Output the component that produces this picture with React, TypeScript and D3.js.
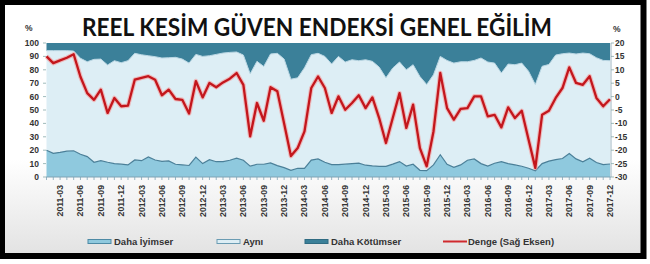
import React from "react";
import * as d3 from "d3";

const months: string[] = d3
  .timeMonth.range(new Date(2011, 0, 1), new Date(2018, 0, 1))
  .map((d) => d3.timeFormat("%Y-%m")(d));

const tickLabels: string[] = months.filter((m, i) => i % 3 === 2);

const iyimser: number[] = [
  20, 17.7, 18.4, 19.3, 19.6, 17, 15.2, 11, 12.2, 11, 10, 9.6, 9, 12.7, 12.2, 15, 12.7, 11.6, 12, 9.5,
  9, 8.6, 14.9, 10, 12.9, 11.4, 11.5, 12.5, 14, 12.5, 8.1, 9.5, 9.5, 10.5, 8.5, 7, 5, 6.5, 6.5, 12.6,
  13.5, 11, 9.2, 9.2, 9.6, 10, 10.3, 8.8, 8.3, 8, 8, 9.6, 11.5, 8.2, 9.5, 5, 4.7, 9, 16.6, 9.5,
  7.2, 9, 12.5, 13.5, 10, 8.2, 10.3, 11.5, 10, 9, 8, 6.5, 4.7, 10, 11.8, 13, 13.8, 17.5, 13.5, 11.4,
  14, 10.8, 9.3, 9.7,
];

const ayni: number[] = [
  74.3, 76.6, 75.9, 75, 74.4, 71.6, 70.8, 76.8, 75.8, 72.6, 76.8, 75.7, 77.8, 79.6, 79, 75.5, 77.1, 77.2, 77, 79.8,
  79, 76.4, 76.6, 80, 77.6, 80.1, 81, 80.5, 79.3, 78.5, 68.9, 76.8, 73, 81.3, 83.8, 81, 68, 67.5, 75, 78.7,
  78.8, 79, 75.1, 80.8, 76.2, 77.5, 76.5, 78.7, 78, 74, 66, 71.7, 74.3, 71.8, 74.3, 70, 64.3, 67.3, 73.4, 77.5,
  77.8, 77, 73.5, 73.5, 78.8, 77.6, 74.7, 66.1, 74.3, 74.8, 77, 72.5, 64.3, 72.6, 72.2, 78, 78.2, 75, 78.3, 81.1,
  78, 78.2, 77.7, 77.1,
];

const kotumser: number[] = [
  5.7, 5.7, 5.7, 5.7, 6, 11.4, 14, 12.2, 12, 16.4, 13.2, 14.7, 13.2, 7.7, 8.8, 9.5, 10.2, 11.2, 11, 10.7,
  12, 15, 8.5, 10, 9.5, 8.5, 7.5, 7, 6.7, 9, 23, 13.7, 17.5, 8.2, 7.7, 12, 27, 26, 18.5, 8.7,
  7.7, 10, 15.7, 10, 14.2, 12.5, 13.2, 12.5, 13.7, 18, 26, 18.7, 14.2, 20, 16.2, 25, 31, 23.7, 10, 13,
  15, 14, 14, 13, 11.2, 14.2, 15, 22.4, 15.7, 16.2, 15, 21, 31, 17.4, 16, 9, 8, 7.5, 8.2, 7.5,
  8, 11, 13, 13.2,
];

const denge: number[] = [
  15, 12.5, 13.5, 14.5, 15.8, 7.4, 1.3, -1.2, 2.6, -6.1, -0.5, -3.6, -3.4, 6.3, 7, 7.6, 6.3, 0.5, 2.6, -0.9,
  -1.2, -6.3, 5.8, -0.3, 5.1, 3.5, 5.3, 6.7, 8.8, 4.4, -14.8, -2.4, -9, 3.5, 2, -10, -22.2, -19.2, -13, 3.2,
  7.5, 3.2, -6.1, 0.1, -4.9, -2.4, 0.5, -4.3, -0.3, -8, -17.3, -8, 1.3, -11.7, -3, -19.2, -26, -13, 8.8, -4.3,
  -8.6, -4.6, -4.3, 0.1, 0.1, -7.4, -6.8, -11.5, -4, -8, -5.3, -16, -26.6, -6.8, -5.3, -0.5, 3.2, 10.9, 5.1, 4.4,
  7.6, -0.5, -3.6, -1,
];

const leftTicks: number[] = [0, 10, 20, 30, 40, 50, 60, 70, 80, 90, 100];
const rightTicks: number[] = [-30, -25, -20, -15, -10, -5, 0, 5, 10, 15, 20];

const seriesNames: string[] = ["Daha İyimser", "Aynı", "Daha Kötümser"];
const lineName = "Denge (Sağ Eksen)";
const title = "REEL KESİM GÜVEN ENDEKSİ GENEL EĞİLİM";

const W = 650;
const H = 264;
const plotL = 46;
const plotR = 611;
const plotT = 43;
const plotB = 177;

const colIyi = "#8fc9de";
const colAyni = "#ddeef5";
const colKot = "#3b8099";
const colLine = "#c3161c";
const textCol = "#333333";
const labelFont = "'Liberation Sans', Arial, sans-serif";

export default function App() {
  const x = d3.scalePoint<string>().domain(months).range([46.5, 610]);
  const yL = d3.scaleLinear().domain([0, 100]).range([plotB, plotT]);
  const yR = d3.scaleLinear().domain([-30, 20]).range([plotB, plotT]);

  const rows = months.map((m, i) => ({
    m,
    iyi: iyimser[i],
    ayni: ayni[i],
    kot: kotumser[i],
  }));
  const stack = d3.stack<any>().keys(["iyi", "ayni", "kot"]);
  const layers = stack(rows);
  const area = d3
    .area<any>()
    .x((d) => x(d.data.m) as number)
    .y0((d) => yL(d[0]))
    .y1((d) => yL(d[1]));
  const topLine = d3
    .line<any>()
    .x((d) => x(d.data.m) as number)
    .y((d) => yL(d[1]));
  const redLine = d3
    .line<number>()
    .x((_, i) => x(months[i]) as number)
    .y((d) => yR(d));

  const fills = [colIyi, colAyni, colKot];

  const legendItems = [
    { x: 88, label: seriesNames[0], kind: "rect", fill: colIyi, stroke: "#4d8aa5" },
    { x: 217, label: seriesNames[1], kind: "rect", fill: colAyni, stroke: "#6b9cb3" },
    { x: 305, label: seriesNames[2], kind: "rect", fill: colKot, stroke: "#2f6b82" },
    { x: 443, label: lineName, kind: "line", fill: "#d02a2e", stroke: "#d02a2e" },
  ];

  return (
    <svg
      width={W}
      height={H}
      style={{ position: "absolute", left: 0, top: 0, display: "block" }}
    >
      <defs>
        <linearGradient id="bg" x1="0" y1="0" x2="0" y2="1">
          <stop offset="0" stopColor="#ffffff" />
          <stop offset="0.62" stopColor="#ffffff" />
          <stop offset="1" stopColor="#e2e2e2" />
        </linearGradient>
      </defs>
      <rect x={0} y={0} width={W} height={H} fill="#ffffff" />
      <rect x={2} y={2} width={641.5} height={254} fill="url(#bg)" stroke="#000" strokeWidth={6} />

      <text
        x={317}
        y={36}
        textAnchor="middle"
        fontFamily="Lato, 'Open Sans', sans-serif"
        fontWeight={700}
        fontSize={25}
        fill="#111"
        textLength={470}
        lengthAdjust="spacingAndGlyphs"
      >
        {title}
      </text>

      {/* areas */}
      {layers.map((layer, k) => (
        <path key={k} d={area(layer as any) || ""} fill={fills[k]} />
      ))}
      <path d={topLine(layers[1] as any) || ""} fill="none" stroke="#b9d6e3" strokeWidth={1} />
      <path d={topLine(layers[0] as any) || ""} fill="none" stroke="#4a7f98" strokeWidth={1.2} />

      {/* axes */}
      <line x1={plotL} x2={plotR} y1={plotB} y2={plotB} stroke="#7fa3b5" strokeWidth={1} />
      {months.map((m) => (
        <line key={m} x1={x(m)} x2={x(m)} y1={plotB} y2={plotB + 3} stroke="#7fa3b5" strokeWidth={0.8} />
      ))}
      <line x1={plotR} x2={plotR} y1={plotT} y2={plotB} stroke="#9fb6c2" strokeWidth={1} />
      {leftTicks.map((t) => (
        <g key={"l" + t}>
          <line x1={plotL - 3} x2={plotL} y1={yL(t)} y2={yL(t)} stroke="#8aa" strokeWidth={0.8} />
          <text
            x={39}
            y={yL(t) + 3}
            textAnchor="end"
            fontFamily={labelFont}
            fontWeight={700}
            fontSize={8.5}
            fill={textCol}
          >
            {t}
          </text>
        </g>
      ))}
      {rightTicks.map((t) => (
        <g key={"r" + t}>
          <line x1={plotR} x2={plotR + 3} y1={yR(t)} y2={yR(t)} stroke="#8aa" strokeWidth={0.8} />
          <text
            x={615}
            y={yR(t) + 3}
            textAnchor="start"
            fontFamily={labelFont}
            fontWeight={700}
            fontSize={8.5}
            fill={textCol}
          >
            {t}
          </text>
        </g>
      ))}
      <text x={25} y={31} fontFamily={labelFont} fontWeight={700} fontSize={8.5} fill={textCol}>
        %
      </text>
      <text x={613} y={32} fontFamily={labelFont} fontWeight={700} fontSize={8.5} fill={textCol}>
        %
      </text>

      {tickLabels.map((m) => (
        <text
          key={m}
          transform={`translate(${(x(m) as number) + 3},${plotB + 8}) rotate(-90)`}
          textAnchor="end"
          fontFamily={labelFont}
          fontWeight={700}
          fontSize={8.7}
          fill={textCol}
        >
          {m}
        </text>
      ))}

      {/* red line */}
      <path d={redLine(denge) || ""} fill="none" stroke="#f2a3a3" strokeWidth={4.5} strokeOpacity={0.7} strokeLinejoin="round" />
      <path d={redLine(denge) || ""} fill="none" stroke={colLine} strokeWidth={2.3} strokeLinejoin="round" />

      {/* legend */}
      {legendItems.map((it) => (
        <g key={it.label}>
          {it.kind === "rect" ? (
            <rect x={it.x} y={239.5} width={23} height={4} fill={it.fill} stroke={it.stroke} strokeWidth={1} />
          ) : (
            <line x1={it.x} x2={it.x + 24} y1={241.5} y2={241.5} stroke={it.fill} strokeWidth={2} />
          )}
          <text
            x={it.x + (it.kind === "rect" ? 26 : 25)}
            y={245}
            fontFamily={labelFont}
            fontWeight={700}
            fontSize={9.5}
            fill={textCol}
          >
            {it.label}
          </text>
        </g>
      ))}
    </svg>
  );
}
